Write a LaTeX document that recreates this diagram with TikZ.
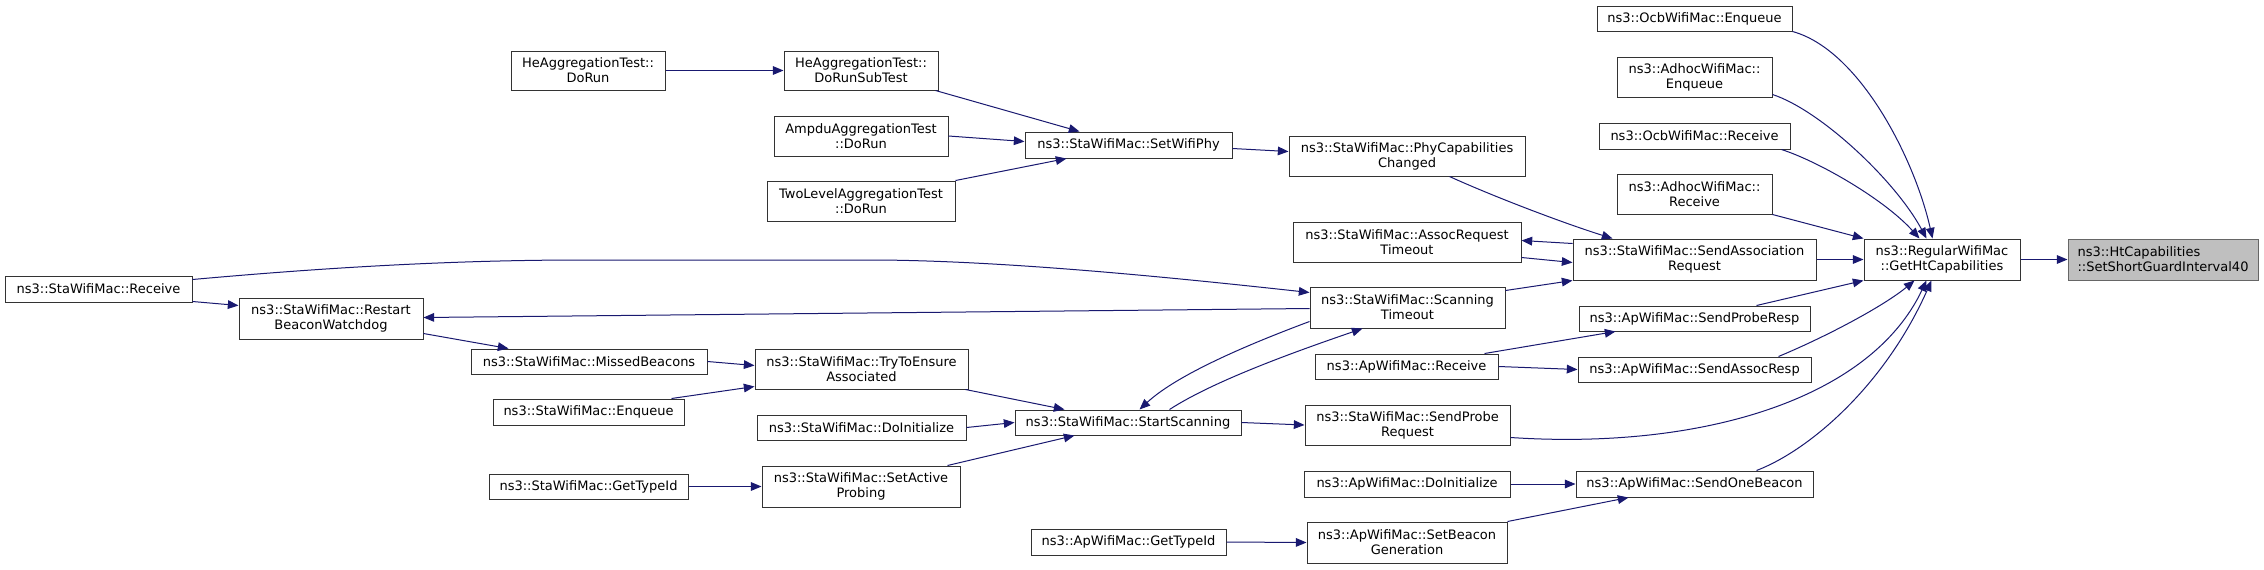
\documentclass[tikz,border=0pt]{standalone}
\usepackage{fontspec}
\setmainfont{DejaVu Sans}
\usetikzlibrary{arrows.meta}
\definecolor{edgec}{HTML}{191970}
\definecolor{rootfill}{HTML}{BFBFBF}
\definecolor{rootdraw}{HTML}{666666}
\definecolor{boxdraw}{HTML}{333333}
\tikzset{
  x=0.75pt, y=-0.75pt,
  box/.style={draw=boxdraw, line width=0.75pt, fill=white, inner sep=0pt, align=center,
    font=\fontsize{9.75pt}{11.25pt}\selectfont},
  rootbox/.style={fill=rootfill, draw=rootdraw, align=left},
  call/.style={draw=edgec, line width=0.75pt, -{Triangle[length=8pt,width=6.5pt]}},
}
\newcommand{\mkn}[7][]{\node[box,#1,minimum width={(#5-#3)*0.75pt},minimum height={(#6-#4)*0.75pt}] (#2) at ({(#3+#5)/2},{(#4+#6)/2}) {#7};}
\begin{document}
\begin{tikzpicture}
\fill[white] (0,0) rectangle (2264,569);
\useasboundingbox (0,0) rectangle (2264,569);
% nodes
\mkn{heDoRun}{511}{51}{665}{90}{HeAggregationTest::\\DoRun}
\mkn{heSub}{784}{51}{938}{90}{HeAggregationTest::\\DoRunSubTest}
\mkn{ampdu}{774}{116}{948}{156}{AmpduAggregationTest\\::DoRun}
\mkn{twolevel}{767}{181}{955}{221}{TwoLevelAggregationTest\\::DoRun}
\mkn{setphy}{1025}{132}{1232}{158}{ns3::StaWifiMac::SetWifiPhy}
\mkn{phycap}{1289}{136}{1525}{176}{ns3::StaWifiMac::PhyCapabilities\\Changed}
\mkn{assoctimeout}{1293}{222}{1521}{262}{ns3::StaWifiMac::AssocRequest\\Timeout}
\mkn{scantimeout}{1310}{287}{1505}{328}{ns3::StaWifiMac::Scanning\\Timeout}
\mkn{staReceive}{5}{276}{192}{302}{ns3::StaWifiMac::Receive}
\mkn{restart}{239}{298}{423}{339}{ns3::StaWifiMac::Restart\\BeaconWatchdog}
\mkn{missed}{471}{349}{707}{374}{ns3::StaWifiMac::MissedBeacons}
\mkn{staEnq}{493}{399}{684}{425}{ns3::StaWifiMac::Enqueue}
\mkn{staGetType}{489}{474}{688}{499}{ns3::StaWifiMac::GetTypeId}
\mkn{tryens}{755}{349}{968}{389}{ns3::StaWifiMac::TryToEnsure\\Associated}
\mkn{staDoInit}{757}{415}{966}{440}{ns3::StaWifiMac::DoInitialize}
\mkn{setactive}{762}{466}{960}{507}{ns3::StaWifiMac::SetActive\\Probing}
\mkn{startscan}{1015}{410}{1241}{435}{ns3::StaWifiMac::StartScanning}
\mkn{apGetType}{1031}{529}{1226}{555}{ns3::ApWifiMac::GetTypeId}
\mkn{apReceive}{1315}{354}{1498}{379}{ns3::ApWifiMac::Receive}
\mkn{sendprobereq}{1305}{405}{1510}{445}{ns3::StaWifiMac::SendProbe\\Request}
\mkn{apDoInit}{1304}{471}{1510}{497}{ns3::ApWifiMac::DoInitialize}
\mkn{setbeacon}{1307}{522}{1507}{563}{ns3::ApWifiMac::SetBeacon\\Generation}
\mkn{ocbEnq}{1597}{6}{1792}{31}{ns3::OcbWifiMac::Enqueue}
\mkn{adhocEnq}{1617}{57}{1772}{97}{ns3::AdhocWifiMac::\\Enqueue}
\mkn{ocbRecv}{1599}{123}{1790}{149}{ns3::OcbWifiMac::Receive}
\mkn{adhocRecv}{1617}{174}{1772}{214}{ns3::AdhocWifiMac::\\Receive}
\mkn{sendassocreq}{1573}{239}{1816}{280}{ns3::StaWifiMac::SendAssociation\\Request}
\mkn{sendproberesp}{1579}{306}{1810}{331}{ns3::ApWifiMac::SendProbeResp}
\mkn{sendassocresp}{1578}{357}{1811}{382}{ns3::ApWifiMac::SendAssocResp}
\mkn{sendonebeacon}{1576}{471}{1813}{497}{ns3::ApWifiMac::SendOneBeacon}
\mkn{getht}{1864}{239}{2020}{280}{ns3::RegularWifiMac\\::GetHtCapabilities}
\mkn[rootbox]{target}{2068}{239}{2258}{280}{ns3::HtCapabilities\\::SetShortGuardInterval40}
% edges
\draw[call] (heDoRun.east) -- (heSub.west);
\draw[call] ([shift={(-3,0)}]heSub.south east) -- ([shift={(55,0)}]setphy.north west);
\draw[call] (ampdu.east) -- ([shift={(0,10)}]setphy.north west);
\draw[call] (twolevel.north east) -- ([shift={(42,0)}]setphy.south west);
\draw[call] ([shift={(0,17)}]setphy.north east) -- ([shift={(0,16)}]phycap.north west);
\draw[call] ([shift={(161,0)}]phycap.south west) .. controls (1490,195) and (1560,222) .. ([shift={(40,0)}]sendassocreq.north west);
\draw[call] ([shift={(0,5)}]sendassocreq.north west) -- ([shift={(0,19)}]assoctimeout.north east);
\draw[call] ([shift={(0,36)}]assoctimeout.north east) -- ([shift={(0,24)}]sendassocreq.north west);
\draw[call] ([shift={(0,4)}]scantimeout.north east) -- (sendassocreq.south west);
\draw[call] (sendassocreq.east) -- (getht.west);
\draw[call] (getht.east) -- (target.west);
\draw[call] (ocbEnq.south east) .. controls (1860,50) and (1915,160) .. ([shift={(69,0)}]getht.north west);
\draw[call] ([shift={(0,-3)}]adhocEnq.south east) .. controls (1820,110) and (1895,180) .. ([shift={(63,0)}]getht.north west);
\draw[call] ([shift={(-9,0)}]ocbRecv.south east) .. controls (1820,162) and (1885,200) .. ([shift={(56,0)}]getht.north west);
\draw[call] (adhocRecv.south east) -- (getht.north west);
\draw[call] ([shift={(-54,0)}]sendproberesp.north east) -- (getht.south west);
\draw[call] ([shift={(-33,0)}]sendassocresp.north east) .. controls (1830,335) and (1885,305) .. ([shift={(51,0)}]getht.south west);
\draw[call] ([shift={(0,-8)}]sendprobereq.south east) .. controls (1700,450) and (1870,400) .. ([shift={(63,0)}]getht.south west);
\draw[call] ([shift={(-57,0)}]sendonebeacon.north east) .. controls (1810,450) and (1885,385) .. ([shift={(68,0)}]getht.south west);
\draw[call] ([shift={(-14,0)}]apReceive.north east) -- ([shift={(37,0)}]sendproberesp.south west);
\draw[call] (apReceive.east) -- (sendassocresp.west);
\draw[call] (apDoInit.east) -- (sendonebeacon.west);
\draw[call] (setbeacon.north east) -- ([shift={(53,0)}]sendonebeacon.south west);
\draw[call] (apGetType.east) -- (setbeacon.west);
\draw[call] (startscan.east) -- (sendprobereq.west);
\draw[call] ([shift={(155,0)}]startscan.north west) .. controls (1215,380) and (1300,350) .. ([shift={(53,0)}]scantimeout.south west);
\draw[call] ([shift={(0,35)}]scantimeout.north west) .. controls (1260,340) and (1180,372) .. ([shift={(125,0)}]startscan.north west);
\draw[call] ([shift={(0,4)}]staReceive.north east) .. controls (320,268) and (450,260) .. (582,260) -- (879,260) .. controls (1000,261) and (1150,275) .. ([shift={(0,6)}]scantimeout.north west);
\draw[call] ([shift={(0,22)}]scantimeout.north west) -- ([shift={(0,20)}]restart.north east);
\draw[call] ([shift={(0,-1)}]staReceive.south east) -- ([shift={(0,8)}]restart.north west);
\draw[call] ([shift={(0,-6)}]restart.south east) -- ([shift={(38,0)}]missed.north west);
\draw[call] (missed.east) -- ([shift={(0,17)}]tryens.north west);
\draw[call] ([shift={(-13,0)}]staEnq.north east) -- ([shift={(0,-3)}]tryens.south west);
\draw[call] ([shift={(-3,0)}]tryens.south east) -- ([shift={(50,0)}]startscan.north west);
\draw[call] (staDoInit.east) -- (startscan.west);
\draw[call] ([shift={(-13,0)}]setactive.north east) -- ([shift={(60,0)}]startscan.south west);
\draw[call] (staGetType.east) -- (setactive.west);
\end{tikzpicture}
\end{document}
